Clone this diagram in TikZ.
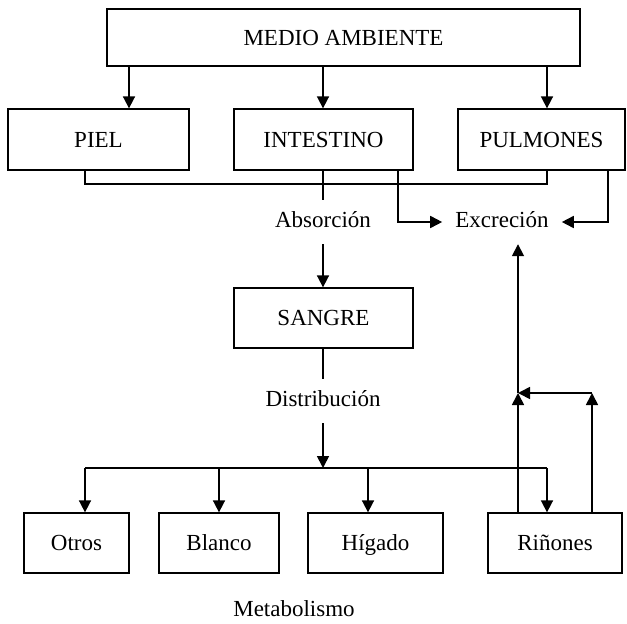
\documentclass[tikz,border=0pt]{standalone}
\usepackage{fontspec}
\setmainfont{Liberation Serif}
\usetikzlibrary{arrows.meta}
\tikzset{
  box/.style={draw, line width=1.3pt, inner sep=0pt, text height=16pt, text depth=1pt, font=\fontsize{23}{26}\selectfont},
  lbl/.style={font=\fontsize{23}{26}\selectfont, text height=16pt, text depth=5pt, inner ysep=11.5pt, inner xsep=13pt},
  ln/.style={line width=1.3pt},
  arr/.style={line width=1.7pt, -{Triangle[length=12pt, width=12pt]}}
}
\begin{document}
\begin{tikzpicture}[x=1pt, y=-1pt]
\useasboundingbox (0,0) rectangle (627,624);
% top
\node[box, minimum width=473pt, minimum height=57pt] (ma) at (343.5,37.5) {MEDIO AMBIENTE};
\node[box, minimum width=181pt, minimum height=61pt] (piel) at (98.5,139.5) {PIEL};
\node[box, minimum width=179pt, minimum height=61pt] (int) at (323.5,139.5) {INTESTINO};
\node[box, minimum width=167pt, minimum height=61pt] (pul) at (541.5,139.5) {PULMONES};
\draw[arr] (ma.south -| 129,0) -- (piel.north -| 129,0);
\draw[arr] (ma.south -| 323,0) -- (int.north -| 323,0);
\draw[arr] (ma.south -| 547,0) -- (pul.north -| 547,0);
% bracket
\draw[ln] (piel.south -| 85,0) -- (85,184) -- (547,184) -- (pul.south -| 547,0);
% labels
\node[lbl] (abs) at (323,222) {Absorción};
\node[lbl] (exc) at (502,222) {Excreción};
\draw[ln] (int.south -| 323,0) -- (abs.north);
\draw[arr] (int.south -| 398,0) |- (exc.west);
\draw[arr] (pul.south -| 608,0) |- (exc.east);
% sangre
\node[box, minimum width=179pt, minimum height=60pt] (san) at (323.5,318) {SANGRE};
\draw[arr] (abs.south) -- (san.north -| abs.south);
\node[lbl] (dis) at (323,401) {Distribución};
\draw[ln] (san.south -| dis.north) -- (dis.north);
\coordinate (hub) at (323,468);
\draw[arr] (dis.south) -- (hub);
% bottom boxes
\node[box, minimum width=105pt, minimum height=60pt] (otr) at (76.5,543) {Otros};
\node[box, minimum width=120pt, minimum height=60pt] (bla) at (219,543) {Blanco};
\node[box, minimum width=135pt, minimum height=60pt] (hig) at (375.5,543) {Hígado};
\node[box, minimum width=134pt, minimum height=60pt] (rin) at (555,543) {Riñones};
\draw[ln] (hub -| 85,0) -- (hub -| 547,0);
\draw[arr] (hub -| 85,0) -- (otr.north -| 85,0);
\draw[arr] (hub -| 219,0) -- (bla.north -| 219,0);
\draw[arr] (hub -| 368,0) -- (hig.north -| 368,0);
\draw[arr] (hub -| 547,0) -- (rin.north -| 547,0);
\node[font=\fontsize{23}{26}\selectfont] (met) at (294,609) {Metabolismo};
% kidney excretion
\coordinate (j) at (518,393);
\coordinate (k) at (592,393);
\draw[arr] (rin.north -| j) -- (j);
\draw[arr] (rin.north -| k) -- (k);
\draw[arr] (k) -- (j);
\draw[arr] (j) -- (exc.south -| j);
\end{tikzpicture}
\end{document}
